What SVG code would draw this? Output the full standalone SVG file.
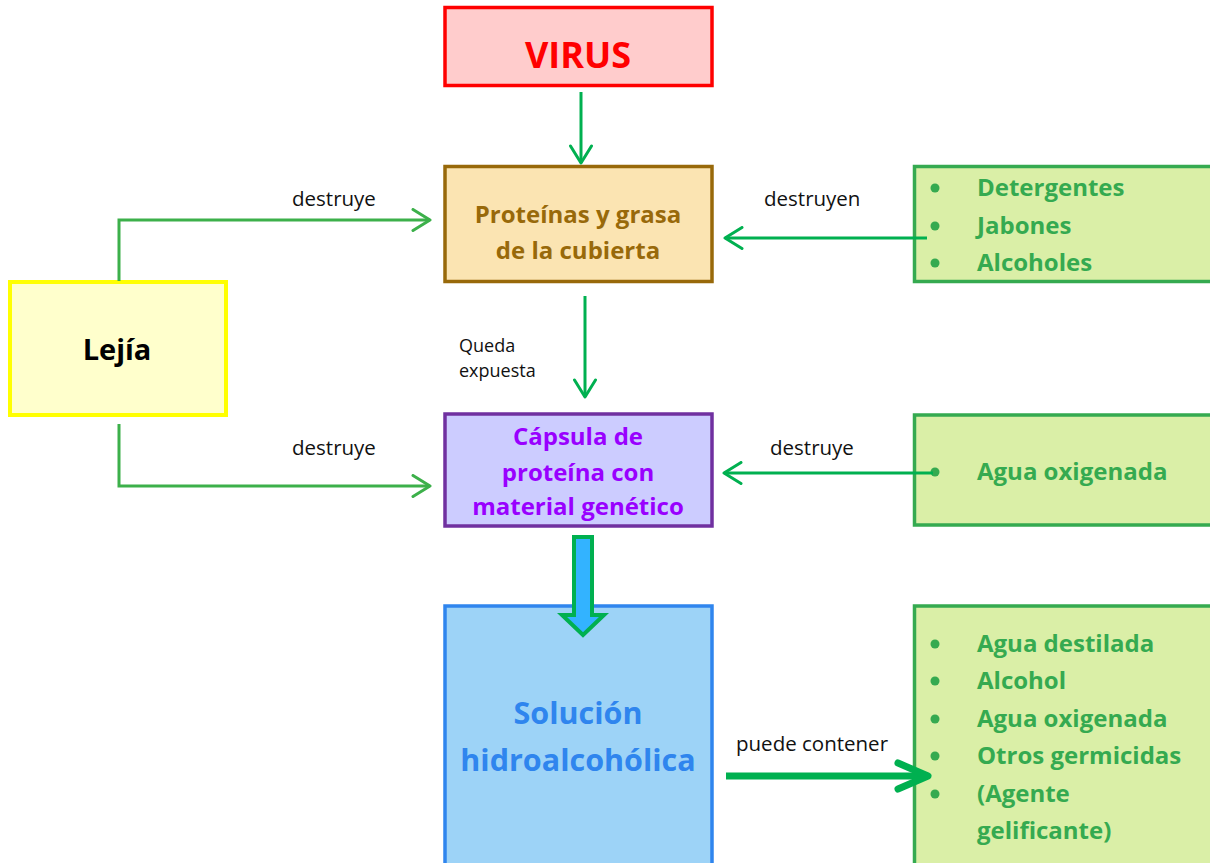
<svg xmlns="http://www.w3.org/2000/svg" width="1210" height="863" viewBox="0 0 1210 863">
<defs>
<style>
text{font-family:"Open Sans",Lato,"Liberation Sans",sans-serif}
.b{font-weight:bold}
.lbl{font-size:20.5px;fill:#111}
.small{font-size:18px;fill:#111}
.ln{fill:none;stroke:#00B050;stroke-width:3}
.ln2{fill:none;stroke:#3CB04A;stroke-width:3}
.li{font-size:24px;font-weight:bold;fill:#35AA50}
.bul{fill:#35AA50}
</style>
<marker id="ah" viewBox="0 0 22 24" refX="19" refY="12" markerWidth="22" markerHeight="24" markerUnits="userSpaceOnUse" orient="auto">
<path d="M2,1.5 L19,12 L2,22.5" fill="none" stroke="#00B050" stroke-width="3" stroke-linecap="round" stroke-linejoin="round"/>
</marker>
<marker id="ah2" viewBox="0 0 22 24" refX="19" refY="12" markerWidth="22" markerHeight="24" markerUnits="userSpaceOnUse" orient="auto">
<path d="M2,1.5 L19,12 L2,22.5" fill="none" stroke="#3CB04A" stroke-width="3" stroke-linecap="round" stroke-linejoin="round"/>
</marker>
</defs>
<rect width="1210" height="863" fill="#fff"/>

<g id="virus">
<rect x="445" y="7.5" width="267" height="78" fill="#FFCCCC" stroke="#FF0000" stroke-width="3.5"/>
<text class="b" x="578" y="68" text-anchor="middle" font-size="36" fill="#FF0000">VIRUS</text>
</g>

<g id="proteinas">
<rect x="445" y="166.5" width="267" height="115" fill="#FBE4B2" stroke="#98690A" stroke-width="3.5"/>
<text class="b" x="578" y="223" text-anchor="middle" font-size="24" fill="#98690A">Proteínas y grasa</text>
<text class="b" x="578" y="259" text-anchor="middle" font-size="24" fill="#98690A">de la cubierta</text>
</g>

<g id="lejia">
<rect x="10" y="282" width="216" height="133" fill="#FFFFCC" stroke="#FFFF00" stroke-width="4"/>
<text class="b" x="117" y="360" text-anchor="middle" font-size="29" fill="#000">Lejía</text>
</g>

<g id="capsula">
<rect x="445" y="414" width="267" height="112" fill="#CCCCFF" stroke="#7030A0" stroke-width="3.5"/>
<text class="b" x="578" y="445" text-anchor="middle" font-size="24" fill="#9900FF">Cápsula de</text>
<text class="b" x="578" y="481" text-anchor="middle" font-size="24" fill="#9900FF">proteína con</text>
<text class="b" x="578" y="515" text-anchor="middle" font-size="24" fill="#9900FF">material genético</text>
</g>

<g id="solucion">
<rect x="445" y="606" width="267" height="270" fill="#9DD3F7" stroke="#2F85EE" stroke-width="3.5"/>
<text class="b" x="578" y="724" text-anchor="middle" font-size="30.5" fill="#2F85EE">Solución</text>
<text class="b" x="578" y="771" text-anchor="middle" font-size="30.5" fill="#2F85EE">hidroalcohólica</text>
</g>

<g id="detergentes">
<rect x="914.5" y="166.5" width="310" height="115" fill="#DAEFA7" stroke="#35AA50" stroke-width="3.5"/>
<circle class="bul" cx="935" cy="188" r="4.5"/>
<circle class="bul" cx="935" cy="226" r="4.5"/>
<circle class="bul" cx="935" cy="263" r="4.5"/>
<text class="li" x="977" y="196">Detergentes</text>
<text class="li" x="977" y="234">Jabones</text>
<text class="li" x="977" y="271">Alcoholes</text>
</g>

<g id="agua-oxigenada">
<rect x="914.5" y="415" width="310" height="110" fill="#DAEFA7" stroke="#35AA50" stroke-width="3.5"/>
<circle class="bul" cx="935" cy="472" r="4.5"/>
<text class="li" x="977" y="480">Agua oxigenada</text>
</g>

<g id="componentes">
<rect x="914.5" y="606" width="310" height="270" fill="#DAEFA7" stroke="#35AA50" stroke-width="3.5"/>
<circle class="bul" cx="935" cy="644" r="4.5"/>
<circle class="bul" cx="935" cy="681" r="4.5"/>
<circle class="bul" cx="935" cy="719" r="4.5"/>
<circle class="bul" cx="935" cy="756" r="4.5"/>
<circle class="bul" cx="935" cy="794" r="4.5"/>
<text class="li" x="977" y="652">Agua destilada</text>
<text class="li" x="977" y="689">Alcohol</text>
<text class="li" x="977" y="727">Agua oxigenada</text>
<text class="li" x="977" y="764">Otros germicidas</text>
<text class="li" x="977" y="802">(Agente</text>
<text class="li" x="977" y="839">gelificante)</text>
</g>

<g id="connectors">
<line class="ln" x1="581" y1="92" x2="581" y2="163" marker-end="url(#ah)"/>
<polyline class="ln2" points="119,281 119,220 430,220" marker-end="url(#ah2)"/>
<polyline class="ln2" points="119,424 119,486 430,486" marker-end="url(#ah2)"/>
<line class="ln" x1="585" y1="296" x2="585" y2="397" marker-end="url(#ah)"/>
<line class="ln" x1="927" y1="238" x2="725" y2="238" marker-end="url(#ah)"/>
<line class="ln" x1="933" y1="473" x2="724" y2="473" marker-end="url(#ah)"/>
<path d="M574,537 H592 V615 H604 L583,635 L562,615 H574 Z" fill="#33B3FF" stroke="#00B050" stroke-width="4" stroke-linejoin="miter"/>
<line x1="726" y1="776" x2="926" y2="776" stroke="#00B050" stroke-width="7"/>
<path d="M898,763 L928,776 L898,789" fill="none" stroke="#00B050" stroke-width="7" stroke-linecap="round" stroke-linejoin="round"/>
<text class="lbl" x="292" y="206">destruye</text>
<text class="lbl" x="292" y="455">destruye</text>
<text class="lbl" x="764" y="206">destruyen</text>
<text class="lbl" x="770" y="455">destruye</text>
<text class="small" x="459" y="352">Queda</text>
<text class="small" x="459" y="377">expuesta</text>
<text class="lbl" x="736" y="751">puede contener</text>
</g>
</svg>
